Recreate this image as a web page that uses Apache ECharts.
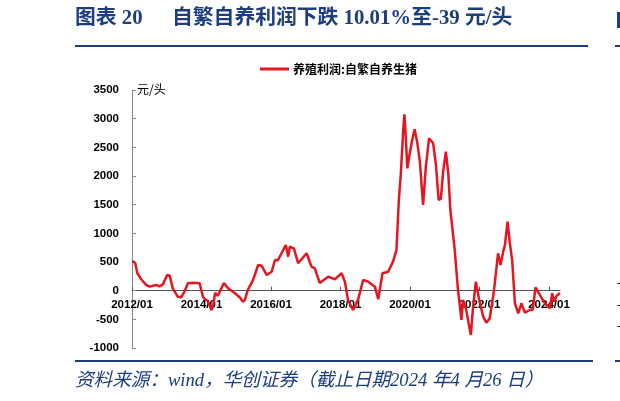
<!DOCTYPE html>
<html><head><meta charset="utf-8">
<script src="https://cdn.jsdelivr.net/npm/echarts@6/dist/echarts.min.js"></script>
<style>html,body{margin:0;padding:0;background:#fff}#c{width:620px;height:401px}</style>
</head><body><div id="c"></div>
<script>
// 养殖利润:自繁自养生猪 (元/头), values
const dates = [
 '2012-01-06','2012-02-05','2012-02-26','2012-04-07','2012-05-29','2012-07-04','2012-09-12','2012-10-17','2012-11-21',
 '2013-01-06','2013-02-01','2013-03-05','2013-04-26','2013-06-01','2013-07-07','2013-08-11','2013-10-03','2013-12-12',
 '2014-01-16','2014-02-14','2014-03-08','2014-04-16','2014-05-05','2014-05-24','2014-06-22','2014-08-24','2014-10-05','2014-12-15',
 '2015-02-09','2015-03-10','2015-04-01','2015-05-02','2015-06-27','2015-08-19','2015-09-24','2015-11-16',
 '2016-01-08','2016-02-12','2016-03-13','2016-04-21','2016-06-05','2016-06-30','2016-07-17','2016-08-29','2016-10-13',
 '2017-01-10','2017-03-02','2017-04-06','2017-05-28','2017-08-24','2017-11-03',
 '2018-01-13','2018-02-17','2018-03-21','2018-05-13','2018-07-04','2018-08-27','2018-10-15','2018-12-28',
 '2019-02-02','2019-03-18','2019-05-16','2019-07-07','2019-08-12','2019-09-06','2019-09-27','2019-10-21','2019-11-03','2019-11-17','2019-12-04','2019-12-25',
 '2020-01-24','2020-02-19','2020-03-16','2020-04-14','2020-05-18','2020-06-16','2020-07-20','2020-09-01','2020-09-30','2020-10-29','2020-11-21','2020-12-15',
 '2021-01-13','2021-02-07','2021-03-01','2021-04-16','2021-05-20','2021-06-26','2021-07-12','2021-08-10','2021-10-02','2021-10-26','2021-11-24','2021-12-29',
 '2022-02-09','2022-03-15','2022-04-19','2022-06-03','2022-07-15','2022-08-10','2022-09-07','2022-09-25','2022-10-23','2022-11-16','2022-12-10',
 '2023-01-08','2023-02-12','2023-03-17','2023-04-22','2023-06-13','2023-07-15','2023-08-12','2023-09-27','2023-11-19',
 '2024-01-11','2024-02-04','2024-02-22','2024-03-20','2024-04-26'
];
const profit = [
 520,478,303,199,100,70,100,75,110,
 274,260,40,-105,-115,-17,129,140,130,
 -105,-162,-180,-340,-250,-40,-90,134,47,-40,
 -120,-192,-162,12,187,448,436,274,
 331,535,530,652,797,593,767,739,478,
 652,419,390,135,244,199,
 303,150,-162,-337,-160,187,160,70,
 -150,303,331,506,710,1582,2047,2773,3075,2700,2134,2350,
 2628,2815,2599,2250,1495,2163,2657,2570,2200,1582,1600,2076,
 2424,2047,1407,710,12,-511,-162,-300,-773,-279,157,-162,
 -453,-558,-482,12,652,448,680,797,1203,826,535,
 -220,-394,-220,-384,-337,-330,59,-75,-220,
 -307,-45,-192,-92,-39
];
const xTickYears = [2012,2014,2016,2018,2020,2022,2024];
const yMin = -1000, yMax = 3500, yStep = 500;
const seriesName = '养殖利润:自繁自养生猪';

function toYear(s){
  const p = s.split('-').map(Number);
  const t = Date.UTC(p[0], p[1]-1, p[2]);
  const a = Date.UTC(p[0],0,1), b = Date.UTC(p[0]+1,0,1);
  return p[0] + (t-a)/(b-a);
}
const pts = dates.map((d,i)=>[toYear(d), profit[i]]);
const xMax = toYear(dates[dates.length-1]);

const gridTop = 90, gridBottom = 53, H = 401;
const gridH = H - gridTop - gridBottom;
// place the category axis on the zero value of the y scale
const zeroOffset = -((0 - yMin) / (yMax - yMin)) * gridH;

const navy = '#1c3e7e';
const chart = echarts.init(document.getElementById('c'), null, {renderer:'canvas'});
chart.setOption({
  animation:false,
  backgroundColor:'#fff',
  grid:{left:132, right:60, top:gridTop, bottom:gridBottom, containLabel:false},
  legend:{
    data:[{name:seriesName, icon:'rect'}],
    left:255, top:58, itemWidth:29, itemHeight:3, itemGap:10,
    textStyle:{fontFamily:'"Noto Sans CJK SC"', fontWeight:'bold', fontSize:12, color:'#000', padding:[0,0,0,-1]}
  },
  xAxis:{
    type:'value', min:2012, max:xMax, position:'bottom', offset:zeroOffset,
    axisLine:{show:true, onZero:false, lineStyle:{color:'#555', width:1}},
    axisTick:{show:true, inside:true, length:4, customValues:xTickYears, lineStyle:{color:'#555'}},
    axisLabel:{customValues:xTickYears, formatter:v=>Math.round(v)+'/01', fontFamily:'"Liberation Sans", Arial', fontWeight:'bold', fontSize:11.5, color:'#000', margin:8},
    splitLine:{show:false}
  },
  yAxis:{
    type:'value', min:yMin, max:yMax, interval:yStep,
    axisLine:{show:true, lineStyle:{color:'#888', width:1}},
    axisTick:{show:true, inside:true, length:4, lineStyle:{color:'#888'}},
    axisLabel:{formatter:v=>String(v), fontFamily:'"Liberation Sans", Arial', fontWeight:'bold', fontSize:11.5, color:'#000', margin:13},
    splitLine:{show:false}
  },
  series:[{
    name:seriesName, type:'line', data:pts, symbol:'none', smooth:false,
    lineStyle:{color:'#e5161f', width:2.5}, itemStyle:{color:'#e5161f'}
  }],
  graphic:[
    {type:'text', left:75, top:8, style:{text:'图表 20', font:'bold 20.8px "Liberation Serif", "Noto Sans CJK SC"', fill:navy}},
    {type:'text', left:172, top:8, style:{text:'自繁自养利润下跌 10.01%至-39 元/头', font:'bold 20.8px "Liberation Serif", "Noto Sans CJK SC"', fill:navy}},
    {type:'rect', shape:{x:75, y:45, width:513, height:2}, style:{fill:navy}},
    {type:'rect', shape:{x:75, y:360, width:518, height:2}, style:{fill:navy}},
    {type:'text', left:137, top:83, style:{text:'元/头', font:'12px "Noto Sans CJK SC"', fill:'#000'}},
    {type:'text', left:75, top:372, style:{text:'资料来源：wind，华创证券（截止日期2024 年4 月26 日）', font:'italic 18.6px "Liberation Serif", "Noto Sans CJK SC"', fill:navy}},
    {type:'rect', shape:{x:615, y:45, width:5, height:2}, style:{fill:navy}},
    {type:'rect', shape:{x:615, y:360, width:5, height:2}, style:{fill:navy}},
    {type:'rect', shape:{x:617, y:12, width:3, height:16}, style:{fill:navy}},
    {type:'rect', shape:{x:617, y:283, width:3, height:1}, style:{fill:'#333'}},
    {type:'rect', shape:{x:617, y:305, width:3, height:1}, style:{fill:'#333'}},
    {type:'rect', shape:{x:617, y:326, width:3, height:1}, style:{fill:'#333'}}
  ]
});
</script>
</body></html>
